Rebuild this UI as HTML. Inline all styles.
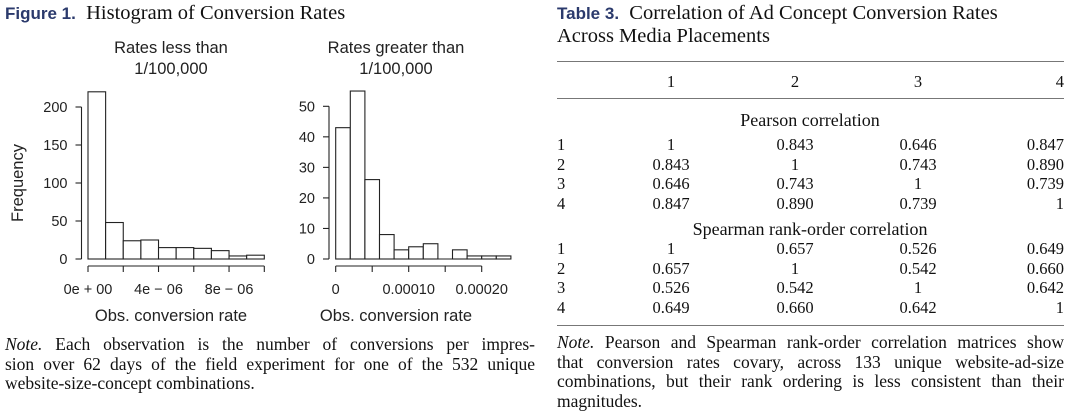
<!DOCTYPE html>
<html><head><meta charset="utf-8"><style>
html,body{margin:0;padding:0;background:#fff;width:1080px;height:417px;overflow:hidden;position:relative}
.serif{font-family:"Liberation Serif",serif;color:#111}
.lab{font-family:"Liberation Sans",sans-serif;font-weight:bold;color:#2b3a6c;font-size:17px}
#title1{position:absolute;left:5px;top:2px;font-size:20.5px;white-space:nowrap}
#title2{position:absolute;left:557px;top:2px;font-size:20.5px;line-height:23px;width:520px;white-space:nowrap}
.note{position:absolute;font-size:17.5px}
.note div{height:19.7px;line-height:19.7px;text-align:justify;text-align-last:justify;white-space:nowrap}
.note div.last{text-align-last:left}
.row{position:absolute;left:557px;width:507px;height:20px;line-height:20px;font-size:16.5px}
.row span{position:absolute;top:0;white-space:nowrap}
.row span.mid{font-size:18px}
.c0{left:0}
.c1{left:114px;width:0;display:flex;justify-content:center}
.c2{left:238px;width:0;display:flex;justify-content:center}
.c3{left:361px;width:0;display:flex;justify-content:center}
.c4{right:0}
.mid{left:253px;width:0;display:flex;justify-content:center}
</style></head><body>
<div id="title1" class="serif"><span class="lab">Figure 1.</span>&nbsp; Histogram of Conversion Rates</div>
<svg id="chart" width="545" height="330" style="position:absolute;left:0;top:0" font-family="Liberation Sans, sans-serif" font-size="14.5" fill="#222"></svg>
<div class="note serif" style="left:5px;top:335px;width:530px">
<div><i>Note.</i> Each observation is the number of conversions per impres-</div>
<div>sion over 62 days of the field experiment for one of the 532 unique</div>
<div class="last">website-size-concept combinations.</div>
</div>

<div id="title2" class="serif"><span class="lab">Table 3.</span>&nbsp; Correlation of Ad Concept Conversion Rates<br>Across Media Placements</div>
<div style="position:absolute;left:557px;top:61px;width:507px;border-top:1.2px solid #777"></div>
<div style="position:absolute;left:557px;top:98px;width:507px;border-top:1px solid #777"></div>
<div style="position:absolute;left:557px;top:325px;width:507px;border-top:1.2px solid #777"></div>
<div class="serif">
<div class="row" style="top:72px"><span class="c1">1</span><span class="c2">2</span><span class="c3">3</span><span class="c4">4</span></div>
<div class="row" style="top:110px"><span class="mid">Pearson&nbsp;correlation</span></div>
<div class="row" style="top:135px"><span class="c0">1</span><span class="c1">1</span><span class="c2">0.843</span><span class="c3">0.646</span><span class="c4">0.847</span></div>
<div class="row" style="top:154.5px"><span class="c0">2</span><span class="c1">0.843</span><span class="c2">1</span><span class="c3">0.743</span><span class="c4">0.890</span></div>
<div class="row" style="top:174px"><span class="c0">3</span><span class="c1">0.646</span><span class="c2">0.743</span><span class="c3">1</span><span class="c4">0.739</span></div>
<div class="row" style="top:193.5px"><span class="c0">4</span><span class="c1">0.847</span><span class="c2">0.890</span><span class="c3">0.739</span><span class="c4">1</span></div>
<div class="row" style="top:219px"><span class="mid">Spearman&nbsp;rank-order&nbsp;correlation</span></div>
<div class="row" style="top:239px"><span class="c0">1</span><span class="c1">1</span><span class="c2">0.657</span><span class="c3">0.526</span><span class="c4">0.649</span></div>
<div class="row" style="top:258.5px"><span class="c0">2</span><span class="c1">0.657</span><span class="c2">1</span><span class="c3">0.542</span><span class="c4">0.660</span></div>
<div class="row" style="top:278px"><span class="c0">3</span><span class="c1">0.526</span><span class="c2">0.542</span><span class="c3">1</span><span class="c4">0.642</span></div>
<div class="row" style="top:297.5px"><span class="c0">4</span><span class="c1">0.649</span><span class="c2">0.660</span><span class="c3">0.642</span><span class="c4">1</span></div>
</div>
<div class="note serif" style="left:557px;top:333px;width:507px">
<div><i>Note.</i> Pearson and Spearman rank-order correlation matrices show</div>
<div>that conversion rates covary, across 133 unique website-ad-size</div>
<div>combinations, but their rank ordering is less consistent than their</div>
<div class="last">magnitudes.</div>
</div>
<script>
const leftCounts=[220,48,24,25,15,15,14,11,4,5];
const leftBinWidth=1e-6;
const leftYTicks=[0,50,100,150,200];
const leftXTicks=[0,2e-6,4e-6,6e-6,8e-6,1e-5];
const leftXLabels=["0e + 00","4e − 06","8e − 06"];
const leftXLabelVals=[0,4e-6,8e-6];
const rightCounts=[43,55,26,8,3,4,5,0,3,1,1,1];
const rightBinWidth=2e-5;
const rightYTicks=[0,10,20,30,40,50];
const rightXTicks=[0,5e-5,1e-4,1.5e-4,2e-4];
const rightXLabels=["0","0.00010","0.00020"];
const rightXLabelVals=[0,1e-4,2e-4];
const svg=document.getElementById('chart');
const NS='http://www.w3.org/2000/svg';
function mk(t,a,txt){const e=document.createElementNS(NS,t);for(const k in a)e.setAttribute(k,a[k]);if(txt!=null)e.textContent=txt;svg.appendChild(e);return e;}
function panel(cfg){
  const sx=v=>cfg.x0+(v-0)*cfg.pxPerX;
  const sy=v=>259-v*cfg.pxPerY;
  cfg.counts.forEach((c,i)=>{
    const x=sx(i*cfg.bw),w=cfg.bw*cfg.pxPerX;
    if(c<=0) return;
    const r=mk('rect',{x:x,y:sy(c),width:w,height:sy(0)-sy(c),fill:'#fff',stroke:'#222','stroke-width':1.1});
    
    
  });
  const base=mk('line',{x1:sx(0),x2:sx(cfg.counts.length*cfg.bw),y1:259,y2:259,stroke:'#222','stroke-width':1.1});
  
  
  const ya=mk('line',{x1:cfg.ax,x2:cfg.ax,y1:sy(cfg.yt[0]),y2:sy(cfg.yt[cfg.yt.length-1]),stroke:'#222','stroke-width':1.1});
  
  
  cfg.yt.forEach(v=>{
    mk('line',{x1:cfg.ax-6,x2:cfg.ax,y1:sy(v),y2:sy(v),stroke:'#222','stroke-width':1.1});
    const t=mk('text',{x:cfg.ax-14,y:sy(v)+5,'text-anchor':'end'},String(v));
    
    
  });
  const xa=mk('line',{x1:sx(cfg.xt[0]),x2:sx(cfg.xt[cfg.xt.length-1]),y1:266,y2:266,stroke:'#222','stroke-width':1.1});
  
  
  cfg.xt.forEach(v=>mk('line',{x1:sx(v),x2:sx(v),y1:266,y2:272,stroke:'#222','stroke-width':1.1}));
  cfg.xl.forEach((l,i)=>{
    const t=mk('text',{x:sx(cfg.xlv[i]),y:294,'text-anchor':'middle'},l);
    
    
  });
  const xt=mk('text',{x:cfg.cx,y:321,'text-anchor':'middle','font-size':16.5},'Obs. conversion rate');
  
  
  const s1=mk('text',{x:cfg.cx,y:53,'text-anchor':'middle','font-size':16.5},cfg.sub);
  
  
  const s2=mk('text',{x:cfg.cx,y:74,'text-anchor':'middle','font-size':16.5},'1/100,000');
  
  
}
panel({id:'left',x0:88,pxPerX:17.63/1e-6,pxPerY:152/200,ax:81.5,counts:leftCounts,bw:leftBinWidth,yt:leftYTicks,xt:leftXTicks,xl:leftXLabels,xlv:leftXLabelVals,cx:171,sub:'Rates less than'});
panel({id:'right',x0:335.7,pxPerX:73/1e-4,pxPerY:152.7/50,ax:329,counts:rightCounts,bw:rightBinWidth,yt:rightYTicks,xt:rightXTicks,xl:rightXLabels,xlv:rightXLabelVals,cx:396,sub:'Rates greater than'});
const yl=mk('text',{x:0,y:0,'text-anchor':'middle','font-size':16.5,transform:'translate(23,183) rotate(-90)'},'Frequency');


</script>
</body></html>
